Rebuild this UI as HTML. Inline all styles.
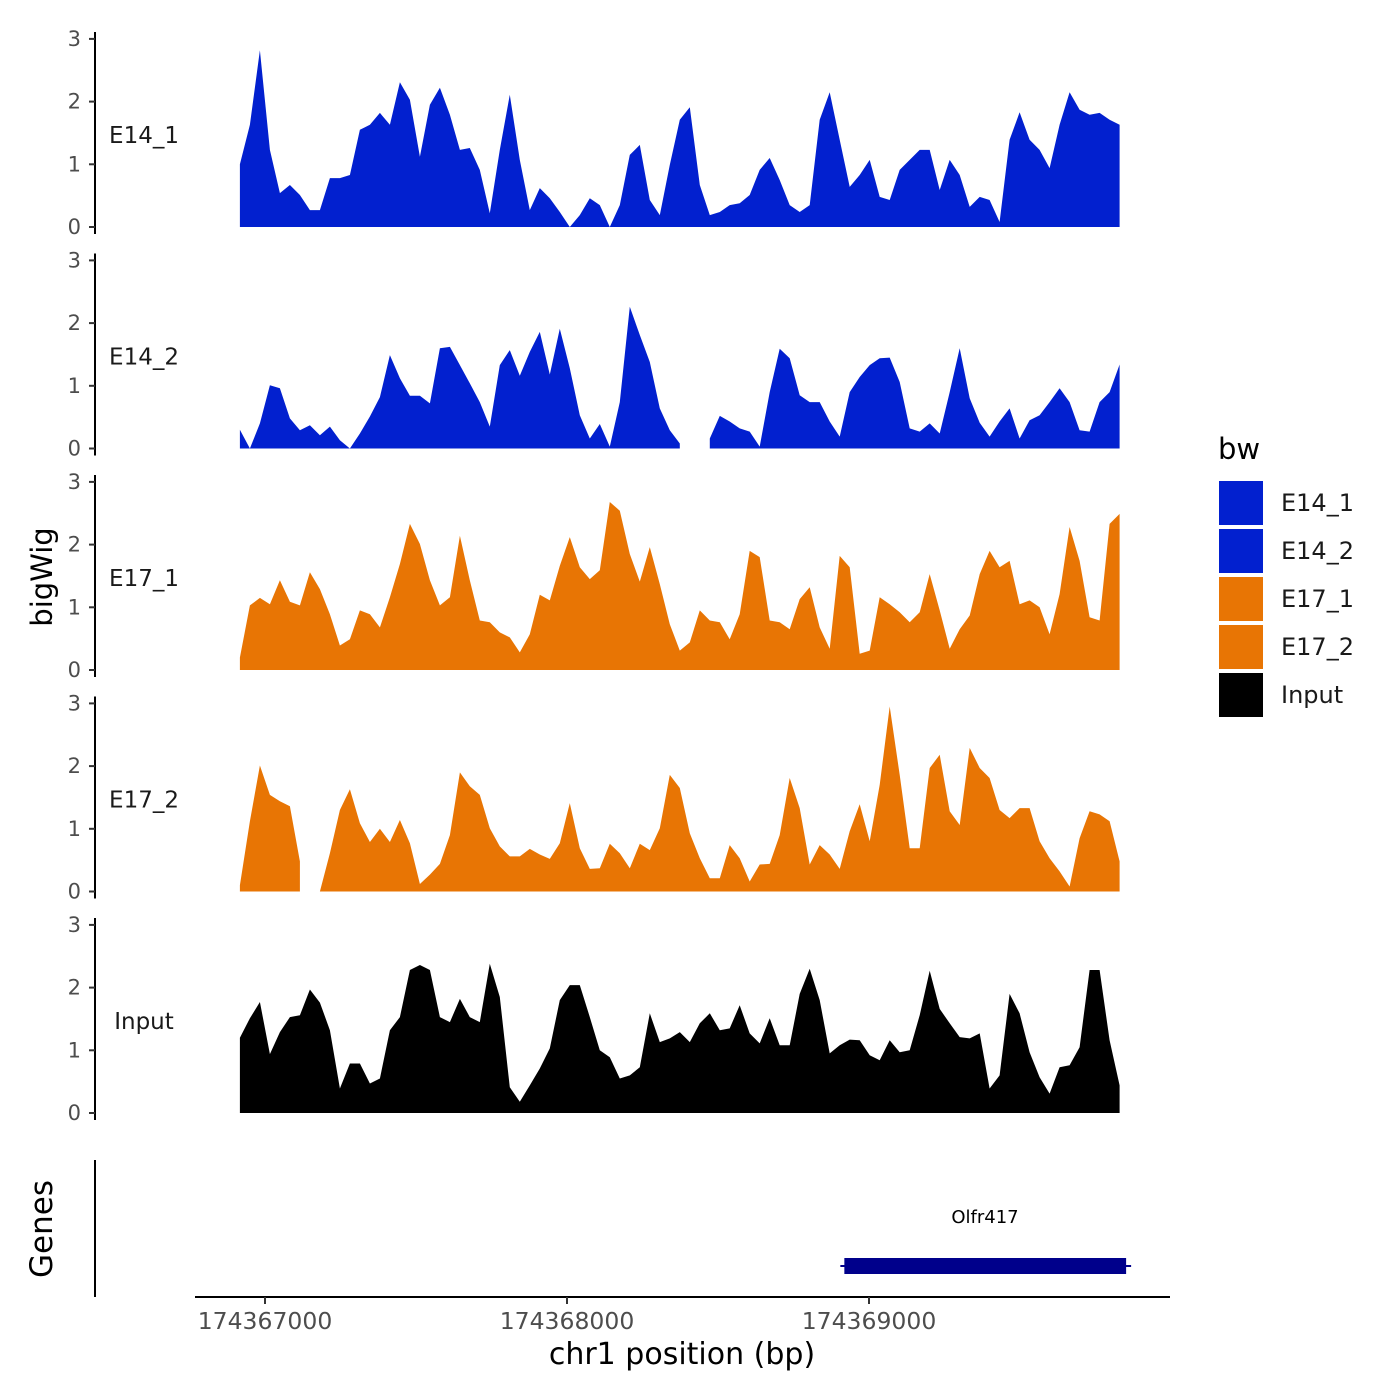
<!DOCTYPE html>
<html><head><meta charset="utf-8"><style>
html,body{margin:0;padding:0;background:#fff}
svg{display:block;font-family:"DejaVu Sans","Liberation Sans",sans-serif}
</style></head><body>
<svg id="chart" width="1400" height="1400" viewBox="0 0 1400 1400" xmlns="http://www.w3.org/2000/svg">
<g id="tracks"></g>
<g id="genes">
  <line x1="95" y1="1160" x2="95" y2="1297" stroke="#000" stroke-width="2"/>
  <text x="52" y="1229" font-size="31" text-anchor="middle" transform="rotate(-90 52 1229)">Genes</text>
</g>
<g id="xaxis">
  <line x1="195" y1="1297" x2="1170" y2="1297" stroke="#000" stroke-width="2"/>
  <text x="682" y="1364" font-size="30" text-anchor="middle">chr1 position (bp)</text>
</g>
<text x="52" y="577" font-size="29" text-anchor="middle" transform="rotate(-90 52 577)">bigWig</text>
<g id="legend">
  <text x="1218" y="459" font-size="29">bw</text>
</g>
</svg>
<script>
const trackNames = ["E14_1","E14_2","E17_1","E17_2","Input"];
const trackColors = ["#0220CF","#0220CF","#E87504","#E87504","#000000"];
const binStart = 174366917;
const binSize = 33.1;
const xTicks = [174367000,174368000,174369000];
const yTicks = [0,1,2,3];
const geneName = "Olfr417";
const geneStart = 174368925;
const geneEnd = 174369858;

const e14_1 = [1.0,1.63,2.82,1.23,0.54,0.67,0.51,0.27,0.27,0.78,0.78,0.83,1.55,1.63,1.82,1.63,2.31,2.03,1.12,1.95,2.22,1.79,1.23,1.26,0.91,0.22,1.23,2.11,1.07,0.27,0.62,0.46,0.24,0.0,0.19,0.46,0.35,0.0,0.35,1.15,1.31,0.43,0.19,0.99,1.71,1.91,0.67,0.19,0.24,0.35,0.38,0.51,0.91,1.10,0.75,0.35,0.24,0.35,1.71,2.15,1.39,0.64,0.83,1.07,0.48,0.43,0.91,1.07,1.23,1.23,0.59,1.07,0.83,0.32,0.48,0.43,0.08,1.39,1.83,1.39,1.23,0.94,1.63,2.15,1.87,1.79,1.82,1.71,1.63];
const e14_2 = [0.3,0.0,0.40,1.01,0.96,0.48,0.29,0.37,0.21,0.35,0.13,0.0,0.24,0.51,0.82,1.49,1.12,0.84,0.84,0.72,1.60,1.62,1.33,1.04,0.74,0.35,1.33,1.57,1.16,1.54,1.86,1.18,1.91,1.28,0.53,0.16,0.39,0.03,0.74,2.26,1.81,1.38,0.64,0.29,0.08,null,null,0.16,0.52,0.43,0.32,0.27,0.03,0.90,1.59,1.44,0.85,0.74,0.74,0.43,0.19,0.90,1.14,1.33,1.44,1.45,1.06,0.32,0.27,0.40,0.24,0.90,1.60,0.80,0.41,0.19,0.43,0.64,0.16,0.45,0.53,0.74,0.96,0.74,0.29,0.27,0.74,0.90,1.34];
const e17_1 = [0.2,1.03,1.15,1.05,1.43,1.09,1.03,1.56,1.29,0.89,0.39,0.49,0.95,0.89,0.68,1.16,1.69,2.33,2.01,1.43,1.03,1.16,2.14,1.43,0.79,0.76,0.60,0.52,0.28,0.57,1.20,1.11,1.66,2.12,1.64,1.45,1.59,2.68,2.54,1.85,1.41,1.96,1.37,0.73,0.31,0.44,0.95,0.79,0.76,0.49,0.89,1.90,1.80,0.79,0.76,0.65,1.13,1.32,0.68,0.34,1.82,1.64,0.26,0.31,1.16,1.05,0.92,0.76,0.92,1.53,0.95,0.34,0.65,0.87,1.53,1.90,1.64,1.74,1.05,1.11,1.00,0.57,1.21,2.28,1.74,0.84,0.79,2.33,2.49];
const e17_2 = [0.1,1.12,2.01,1.54,1.44,1.36,0.48,null,0.0,0.61,1.30,1.63,1.09,0.79,1.00,0.79,1.14,0.77,0.12,0.27,0.44,0.90,1.90,1.68,1.54,1.01,0.72,0.56,0.56,0.68,0.59,0.52,0.77,1.41,0.69,0.36,0.37,0.76,0.61,0.37,0.76,0.66,1.01,1.86,1.65,0.93,0.53,0.21,0.21,0.74,0.53,0.16,0.43,0.44,0.90,1.81,1.33,0.43,0.74,0.59,0.36,0.96,1.39,0.80,1.70,2.95,1.86,0.69,0.69,1.97,2.18,1.28,1.06,2.29,1.97,1.81,1.30,1.17,1.33,1.33,0.80,0.53,0.32,0.08,0.85,1.28,1.23,1.12,0.48];
const input = [1.2,1.51,1.77,0.94,1.29,1.53,1.56,1.97,1.76,1.32,0.39,0.79,0.79,0.47,0.55,1.32,1.53,2.28,2.36,2.28,1.53,1.45,1.82,1.53,1.45,2.38,1.85,0.41,0.18,0.44,0.71,1.03,1.80,2.04,2.04,1.53,1.00,0.89,0.55,0.60,0.73,1.59,1.13,1.19,1.29,1.13,1.43,1.59,1.32,1.35,1.72,1.27,1.11,1.51,1.08,1.08,1.90,2.30,1.80,0.95,1.08,1.17,1.16,0.92,0.84,1.16,0.97,1.00,1.56,2.27,1.66,1.43,1.21,1.19,1.27,0.39,0.60,1.90,1.59,0.97,0.57,0.31,0.73,0.76,1.05,2.28,2.28,1.16,0.44];
const trackValues = [e14_1,e14_2,e17_1,e17_2,input];

const NS = "http://www.w3.org/2000/svg";
const xScale = bp => 265 + (bp - 174367000) * 0.302;
const panelBase = i => 227 + i * 221.5;
const yScale = (v, i) => panelBase(i) - v * 62.7;
function mk(tag, attrs, parent){const e=document.createElementNS(NS,tag);for(const k in attrs)e.setAttribute(k,attrs[k]);parent.appendChild(e);return e;}

const tracksG = document.getElementById("tracks");
trackNames.forEach((name, i) => {
  const g = mk("g", {}, tracksG);
  
  
  const base = panelBase(i);
  const ax = mk("line", {x1:95,y1:base-195,x2:95,y2:base+7,stroke:"#000","stroke-width":2}, g);
  
  
  yTicks.forEach(t => {
    const y = yScale(t, i);
    const tl = mk("line", {x1:89,y1:y,x2:95,y2:y,stroke:"#333","stroke-width":2}, g);
    
    
    const tx = mk("text", {x:81,y:y+7,"font-size":21,"text-anchor":"end",fill:"#4d4d4d"}, g);
    tx.textContent = t;
    
    
  });
  const lab = mk("text", {x:144,y:base-84,"font-size":23,"text-anchor":"middle",fill:"#1a1a1a"}, g);
  lab.textContent = name;
  
  
  const vals = trackValues[i];
  let seg = [];
  const segs = [];
  vals.forEach((v, j) => {
    if (v === null) { if (seg.length) segs.push(seg); seg = []; }
    else seg.push([xScale(binStart + j * binSize), v]);
  });
  if (seg.length) segs.push(seg);
  segs.forEach(s => {
    let d = "M" + s[0][0].toFixed(1) + "," + base;
    s.forEach(p => { d += " L" + p[0].toFixed(1) + "," + yScale(p[1], i).toFixed(1); });
    d += " L" + s[s.length-1][0].toFixed(1) + "," + base + " Z";
    const a = mk("path", {d:d, fill:trackColors[i]}, g);
    
    
  });
});

const xa = document.getElementById("xaxis");
xTicks.forEach(t => {
  const x = xScale(t);
  const tl = mk("line", {x1:x,y1:1297,x2:x,y2:1304,stroke:"#333","stroke-width":2}, xa);
  
  
  const tx = mk("text", {x:x,y:1329,"font-size":23.5,"text-anchor":"middle",fill:"#4d4d4d"}, xa);
  tx.textContent = t;
  
  
});

const gg = document.getElementById("genes");
const gx1 = xScale(geneStart), gx2 = xScale(geneEnd);
const gl = mk("line", {x1:gx1-6,y1:1266,x2:gx2+3,y2:1266,stroke:"#00008B","stroke-width":2}, gg);


const gr = mk("rect", {x:gx1-2,y:1258,width:gx2-gx1,height:16,fill:"#00008B"}, gg);


const gt = mk("text", {x:985,y:1223,"font-size":18,"text-anchor":"middle"}, gg);
gt.textContent = geneName;



const lg = document.getElementById("legend");
trackNames.forEach((name, i) => {
  const y = 481 + i * 48;
  const r = mk("rect", {x:1219,y:y,width:44,height:44,fill:trackColors[i]}, lg);
  
  
  const t = mk("text", {x:1281,y:y+30,"font-size":24,fill:"#1a1a1a"}, lg);
  t.textContent = name;
  
  
});
</script>
</body></html>
